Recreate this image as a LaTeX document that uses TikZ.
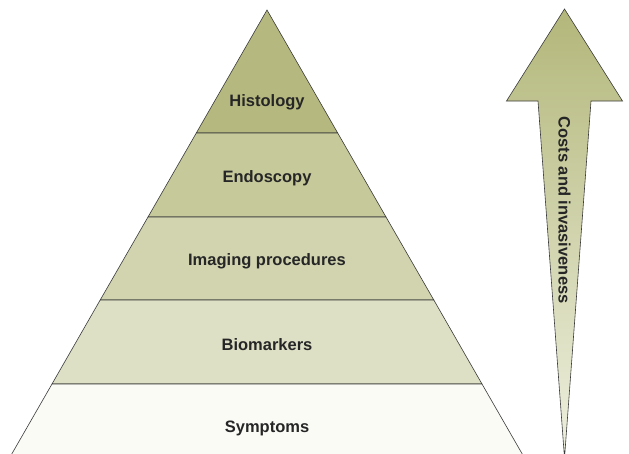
\documentclass[tikz,border=0pt]{standalone}
\usepackage{fontspec}
\setmainfont{Liberation Sans}
\usepackage{tikz}
\usetikzlibrary{calc}

\definecolor{edge}{HTML}{3A3A3A}
\definecolor{txt}{HTML}{262626}
\definecolor{histo}{HTML}{B6B97F}
\definecolor{endo}{HTML}{C6C99A}
\definecolor{imag}{HTML}{D1D4AF}
\definecolor{bio}{HTML}{DEE0C5}
\definecolor{symp}{HTML}{FAFBF5}
\definecolor{arrtop}{HTML}{B3B77A}
\definecolor{arrbot}{HTML}{EEF0DF}

\begin{document}
\begin{tikzpicture}[
  x=1pt, y=-1pt,
  font=\fontsize{16.5}{20}\selectfont\bfseries,
  layer/.style={draw=edge, line width=0.6pt},
  lbl/.style={text=txt, inner sep=0pt},
  arr/.style={draw=edge, line width=0.6pt, top color=arrtop, bottom color=arrbot}
]
  \useasboundingbox (0,0) rectangle (629,453);
  \clip (0,0) rectangle (629,453);

  % pyramid
  \coordinate (apex) at (267,10);
  \coordinate (l1) at (196.3,133); \coordinate (r1) at (337.7,133);
  \coordinate (l2) at (148,217);   \coordinate (r2) at (386,217);
  \coordinate (l3) at (100.2,300); \coordinate (r3) at (433.8,300);
  \coordinate (l4) at (52,384);    \coordinate (r4) at (482,384);
  \coordinate (l5) at (8.3,460);   \coordinate (r5) at (525.7,460);

  \filldraw[layer, fill=histo] (apex) -- (r1) -- (l1) -- cycle;
  \filldraw[layer, fill=endo] (l1) -- (r1) -- (r2) -- (l2) -- cycle;
  \filldraw[layer, fill=imag] (l2) -- (r2) -- (r3) -- (l3) -- cycle;
  \filldraw[layer, fill=bio] (l3) -- (r3) -- (r4) -- (l4) -- cycle;
  \filldraw[layer, fill=symp] (l4) -- (r4) -- (r5) -- (l5) -- cycle;

  \node[lbl] (histology) at (267,102) {Histology};
  \node[lbl] (endoscopy) at (267,178) {Endoscopy};
  \node[lbl] (imaging) at (267,261) {Imaging procedures};
  \node[lbl] (biomarkers) at (267,345) {Biomarkers};
  \node[lbl] (symptoms) at (267,428) {Symptoms};

  % arrow
  \coordinate (tip) at (564.5,9);
  \coordinate (tail) at (564.5,458);
  \shade[arr] (tip) -- (622.5,101) -- (591,101) -- (tail)
    -- (538,101) -- (506.5,101) -- cycle;
  \node[lbl, rotate=-90] (costs) at (564.5,210) {Costs and invasiveness};
\end{tikzpicture}
\end{document}
